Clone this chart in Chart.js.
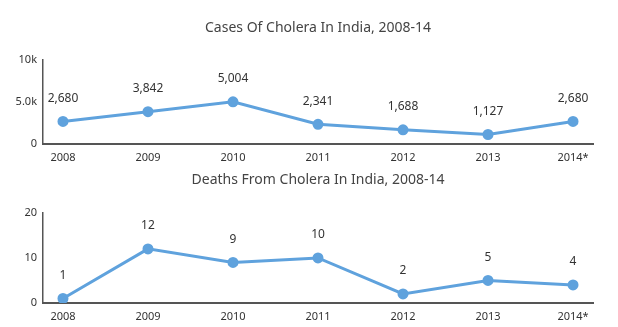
<!DOCTYPE html>
<html>
<head>
<meta charset="utf-8">
<script src="https://cdn.jsdelivr.net/npm/chart.js@4"></script>
<style>
  html, body { margin: 0; padding: 0; background: #fff; }
  .box { position: relative; width: 618px; }
</style>
</head>
<body>
<div class="box" style="height:165px"><canvas id="casesChart"></canvas></div>
<div class="box" style="height:162px"><canvas id="deathsChart"></canvas></div>
<script>
const years = ['2008', '2009', '2010', '2011', '2012', '2013', '2014*'];
const cases = [2680, 3842, 5004, 2341, 1688, 1127, 2680];
const deaths = [1, 12, 9, 10, 2, 5, 4];
const casesTicks = [0, 5000, 10000];
const casesTickLabels = ['0', '5.0k', '10k'];
const deathsTicks = [0, 10, 20];
const deathsTickLabels = ['0', '10', '20'];

const FONT = "'Noto Sans', sans-serif";
const BLUE = '#5fa2dd';

// draws the value above each point
const valueLabels = {
    id: 'valueLabels',
    afterDatasetsDraw(chart) {
        const ctx = chart.ctx;
        const meta = chart.getDatasetMeta(0);
        const values = chart.data.datasets[0].data;
        ctx.save();
        ctx.font = '12px ' + FONT;
        ctx.fillStyle = '#333';
        ctx.textAlign = 'center';
        ctx.textBaseline = 'middle';
        meta.data.forEach((pt, i) => {
            ctx.fillText(values[i].y.toLocaleString('en-US'), pt.x, pt.y - 23);
        });
        ctx.restore();
    }
};

function makeChart(id, title, values, ticks, tickLabels, titlePad, xHeight) {
    const ctx = document.getElementById(id).getContext('2d');
    return new Chart(ctx, {
        type: 'line',
        data: {
            datasets: [{
                data: values.map((v, i) => ({x: i, y: v})),
                borderColor: BLUE,
                backgroundColor: BLUE,
                borderWidth: 3,
                pointRadius: 4,
                pointHoverRadius: 4,
                tension: 0,
            }]
        },
        plugins: [valueLabels],
        options: {
            responsive: true,
            maintainAspectRatio: false,
            animation: false,
            layout: { padding: { left: 0, right: 25, top: 0, bottom: 0 } },
            plugins: {
                legend: { display: false },
                tooltip: { enabled: false },
                title: {
                    display: true,
                    text: title,
                    fullSize: false,
                    color: '#444',
                    font: { family: FONT, size: 14, weight: 'normal' },
                    padding: titlePad,
                },
            },
            scales: {
                x: {
                    type: 'linear',
                    min: -0.235,
                    max: years.length - 1 + 0.235,
                    grid: { display: false, drawTicks: false },
                    border: { display: true, color: '#555', width: 2 },
                    afterBuildTicks: s => { s.ticks = years.map((_, i) => ({value: i})); },
                    afterFit: s => { s.height = xHeight; },
                    ticks: {
                        autoSkip: false,
                        maxRotation: 0,
                        padding: 7,
                        color: '#333',
                        font: { family: FONT, size: 11 },
                        callback: v => years[v],
                    },
                },
                y: {
                    min: ticks[0],
                    max: ticks[ticks.length - 1],
                    grid: { display: false, drawTicks: false },
                    border: { display: true, color: '#555', width: 1.5 },
                    afterBuildTicks: s => { s.ticks = ticks.map(v => ({value: v})); },
                    afterFit: s => { s.width = 43; },
                    ticks: {
                        padding: 6,
                        color: '#333',
                        font: { family: FONT, size: 11 },
                        callback: v => tickLabels[ticks.indexOf(v)],
                    },
                },
            },
        },
    });
}

makeChart('casesChart', 'Cases Of Cholera In India, 2008-14', cases, casesTicks, casesTickLabels,
    { top: 20, bottom: 23 }, 21);
makeChart('deathsChart', 'Deaths From Cholera In India, 2008-14', deaths, deathsTicks, deathsTickLabels,
    { top: 7, bottom: 24 }, 24);
</script>
</body>
</html>
